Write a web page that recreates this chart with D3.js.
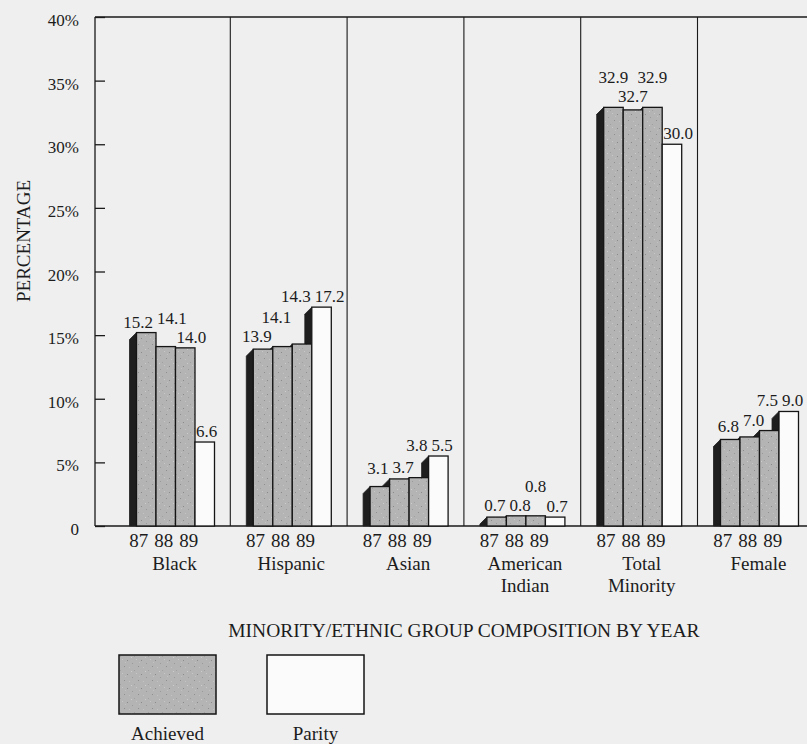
<!DOCTYPE html>
<html>
<head>
<meta charset="utf-8">
<script src="https://cdn.jsdelivr.net/npm/d3@7"></script>
<style>
  html, body { margin: 0; padding: 0; background: #efefef; }
  svg { display: block; }
  text { font-family: "Liberation Serif", "Times New Roman", serif; fill: #1c1c1c; }
</style>
</head>
<body>
<svg id="chart" width="807" height="744"></svg>
<script>
// Groups along the x axis and the three school years shown for each
const groups = ["Black", "Hispanic", "Asian", "American Indian", "Total Minority", "Female"];
const years = ["87", "88", "89"];

// Percentages achieved per year, and the parity target, one entry per group
const achieved87 = [15.2, 13.9, 3.1, 0.7, 32.9, 6.8];
const achieved88 = [14.1, 14.1, 3.7, 0.8, 32.7, 7.0];
const achieved89 = [14.0, 14.3, 3.8, 0.8, 32.9, 7.5];
const parity     = [6.6, 17.2, 5.5, 0.7, 30.0, 9.0];

// Y axis ticks
const yTicks = [0, 5, 10, 15, 20, 25, 30, 35, 40];
const yTickLabels = ["0", "5%", "10%", "15%", "20%", "25%", "30%", "35%", "40%"];

const legendItems = ["Achieved", "Parity"];
const axisTitle = "PERCENTAGE";
const xTitle = "MINORITY/ETHNIC GROUP COMPOSITION BY YEAR";

const svg = d3.select("#chart");
const W = 807;
const plot = { left: 95, top: 17, bottom: 526 };
const depth = 7;           // width of the dark side face of each bar
const gray = "#b4b4b4";
const dark = "#1e1e1e";

const x = d3.scaleBand().domain(groups).range([113.5, 113.5 + 6 * 116.8]);
const barKeys = ["87", "88", "89", "parity"];
const inner = d3.scaleBand().domain(barKeys).range([23, 23 + 4 * 19.5]);
const y = d3.scaleLinear().domain([0, 40]).range([plot.bottom, plot.top]);

// Stippled gray fill for the achieved bars
const defs = svg.append("defs");
const pat = defs.append("pattern").attr("id", "stipple")
  .attr("patternUnits", "userSpaceOnUse").attr("width", 14).attr("height", 14);
pat.append("rect").attr("width", 14).attr("height", 14).attr("fill", gray);
const specks = [[1, 2, "#8a8a8a"], [6, 5, "#9a9a9a"], [10, 1, "#c8c8c8"], [3, 9, "#c4c4c4"],
                [12, 8, "#8f8f8f"], [8, 12, "#a0a0a0"], [5, 13, "#cdcdcd"], [13, 4, "#c2c2c2"]];
specks.forEach(([sx, sy, c]) => pat.append("rect").attr("x", sx).attr("y", sy)
  .attr("width", 1).attr("height", 1).attr("fill", c));

// Frame: left axis, top border, baseline
const frame = svg.append("g").attr("stroke", "#1a1a1a").attr("stroke-width", 1.3);
frame.append("line").attr("x1", plot.left).attr("x2", plot.left).attr("y1", plot.top).attr("y2", plot.bottom);
frame.append("line").attr("x1", plot.left).attr("x2", W).attr("y1", plot.top).attr("y2", plot.top);
frame.append("line").attr("x1", plot.left).attr("x2", W).attr("y1", plot.bottom).attr("y2", plot.bottom);

// Panel dividers between groups
groups.slice(1).forEach(g => {
  frame.append("line").attr("x1", x(g)).attr("x2", x(g))
    .attr("y1", plot.top).attr("y2", plot.bottom).attr("stroke-width", 1.1);
});

// Y axis with inward ticks
const yAxis = d3.axisLeft(y).tickValues(yTicks)
  .tickFormat((d, i) => yTickLabels[i]).tickSizeInner(-10).tickSizeOuter(0).tickPadding(16);
const ya = svg.append("g").attr("transform", `translate(${plot.left},0)`).call(yAxis);
ya.select(".domain").remove();
ya.selectAll(".tick line").attr("stroke", "#1a1a1a").attr("stroke-width", 1.3);
ya.selectAll(".tick text").style("font-size", "17px").style("font-family", "'Liberation Serif', serif")
  .attr("dy", "0.5em").attr("fill", "#1c1c1c");

svg.append("text").attr("transform", "translate(30,241) rotate(-90)")
  .attr("text-anchor", "middle").style("font-size", "19px").text(axisTitle);

// Bars: side faces first so each front face hides the neighbour's side
const barData = [];
groups.forEach((g, gi) => {
  const vals = [achieved87[gi], achieved88[gi], achieved89[gi], parity[gi]];
  barKeys.forEach((k, j) => {
    const x0 = x(g) + inner(k);
    barData.push({ g, gi, k, j, v: vals[j], x0, x1: x0 + inner.bandwidth(), top: y(vals[j]) });
  });
});

const bars = svg.append("g");
bars.selectAll("path.side").data(barData).join("path").attr("class", "side")
  .attr("d", d => `M${d.x0},${d.top}L${d.x0 - depth},${d.top + depth}L${d.x0 - depth},${plot.bottom}L${d.x0},${plot.bottom}Z`)
  .attr("fill", dark).attr("stroke", dark).attr("stroke-width", 0.8);
bars.selectAll("rect.front").data(barData).join("rect").attr("class", "front")
  .attr("x", d => d.x0).attr("y", d => d.top)
  .attr("width", inner.bandwidth()).attr("height", d => plot.bottom - d.top)
  .attr("fill", d => d.k === "parity" ? "#fbfbfb" : "url(#stipple)")
  .attr("stroke", "#151515").attr("stroke-width", 1.3);

// Value labels: placed lowest value first, each just above its bar and
// nudged away from a taller neighbour; a collision with a label already
// placed is solved by a small sideways step or else by lifting the label.
const labels = svg.append("g");
const fmt = d3.format(".1f");
const gap = 4, rise = 19, maxShift = 9;
groups.forEach((g, gi) => {
  const gb = barData.filter(d => d.gi === gi);
  const order = d3.range(gb.length).sort((a, b) => d3.ascending(gb[a].v, gb[b].v) || a - b);
  const placed = [];
  const under = (cx, w) => d3.min(gb.filter(o => o.x1 > cx - w / 2 && o.x0 - depth < cx + w / 2), o => o.top) - 5;
  const hits = (cx, w, base) => placed.filter(p =>
    Math.abs(p.cx - cx) < (p.w + w) / 2 + gap - 0.05 && Math.abs(p.base - base) < rise - 0.05);
  order.forEach(j => {
    const b = gb[j];
    const t = labels.append("text").attr("text-anchor", "middle")
      .style("font-size", "17px").text(fmt(b.v));
    const w = t.node().getComputedTextLength();
    const bw = b.x1 - b.x0;
    let cx = (b.x0 + b.x1) / 2;
    const left = gb[j - 1], right = gb[j + 1];
    const lt = left && left.top < b.top - 1, rt = right && right.top < b.top - 1;
    if (lt && !rt) cx += (w - bw) / 2 + 1;
    if (rt && !lt) cx -= (w - bw) / 2 + 1;
    let base = under(cx, w);
    for (let guard = 0; guard < 10; guard++) {
      const h = hits(cx, w, base);
      if (!h.length) break;
      const p = h[0];
      const dir = cx >= p.cx ? 1 : -1;
      const need = (p.w + w) / 2 + gap - Math.abs(cx - p.cx);
      const cx2 = cx + dir * need;
      const base2 = Math.min(base, under(cx2, w));
      if (need <= maxShift && !hits(cx2, w, base2).length) { cx = cx2; base = base2; break; }
      base = d3.min(h, q => q.base) - rise;
    }
    placed.push({ cx, w, base });
    t.attr("x", cx).attr("y", base);
  });
});

// Year labels under each group and the group names
const yearPos = d3.scalePoint().domain(years).range([-25, 25]);
const xl = svg.append("g");
groups.forEach(g => {
  const c88 = x(g) + inner("88") + inner.bandwidth() / 2 - 2;
  years.forEach(yr => {
    xl.append("text").attr("x", c88 + yearPos(yr)).attr("y", 547)
      .attr("text-anchor", "middle").style("font-size", "19px").text(yr);
  });
  const center = x(g) + inner("87") + 2 * inner.bandwidth() - 1;
  g.split(" ").forEach((word, li) => {
    xl.append("text").attr("x", center).attr("y", 570 + li * 22)
      .attr("text-anchor", "middle").style("font-size", "19px").text(word);
  });
});

svg.append("text").attr("x", (x.range()[0] + x.range()[1]) / 2).attr("y", 637)
  .attr("text-anchor", "middle").style("font-size", "19.5px").text(xTitle);

// Legend
const legend = svg.append("g");
const legendX = [119, 267];
legendItems.forEach((name, i) => {
  legend.append("rect").attr("x", legendX[i]).attr("y", 655).attr("width", 97).attr("height", 59)
    .attr("fill", i === 0 ? "url(#stipple)" : "#fbfbfb")
    .attr("stroke", "#151515").attr("stroke-width", 1.5);
  legend.append("text").attr("x", legendX[i] + 48.5).attr("y", 740)
    .attr("text-anchor", "middle").style("font-size", "19px").text(name);
});
</script>
</body>
</html>
